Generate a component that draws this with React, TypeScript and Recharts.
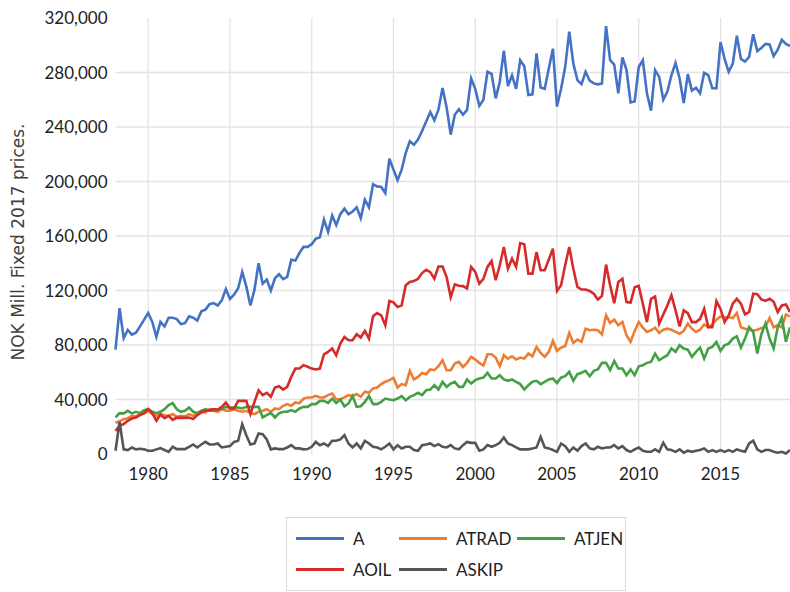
import { LineChart, Line, XAxis, YAxis, CartesianGrid, Legend } from 'recharts';

// quarterly series, 1978Q1 - 2019Q2, NOK mill. (thousands)
const startYear = 1978;
const xTicks = [1980, 1985, 1990, 1995, 2000, 2005, 2010, 2015];
const yTicks = [0, 40, 80, 120, 160, 200, 240, 280, 320];
const gridY = [40, 80, 120, 160, 200, 240, 280];

const A = [
  76.6, 107, 85, 91, 87.6, 89, 93.7, 98.6, 103.5, 97,
  86, 97, 93.7, 100, 100, 99, 95.4, 96, 101, 100,
  98, 104.7, 106, 110, 110.8, 109, 112.8, 121, 113.8, 117,
  121.6, 133.6, 123, 109, 120.6, 140, 125, 128, 120, 129,
  132, 128.4, 130, 142.6, 142, 147.5, 152, 152, 154, 158,
  159, 172, 163, 175, 168, 176, 180, 176, 178, 181,
  173, 186.6, 181, 198, 196.4, 196, 191.5, 216.7, 208.7, 201,
  208.7, 221, 229.5, 227, 230.7, 237, 244, 251, 245, 252.7,
  268.6, 254.4, 234.4, 249, 253, 249, 252.6, 275.6, 268, 255.5,
  260, 280.5, 279, 261, 273, 296, 270, 278, 268, 289,
  284.6, 263.5, 264, 294, 269, 268, 283, 297.5, 255, 268,
  284, 310, 286.5, 274.4, 271.5, 280.5, 274, 272, 271.3, 272,
  314, 289, 285.8, 264.7, 291, 282, 258, 258.7, 284, 289,
  264.7, 252, 281.7, 276.8, 260, 266, 278, 287, 275.6, 257.5,
  278.8, 266.7, 268.8, 264.7, 279.8, 278, 268.4, 268.4, 302.3, 290,
  280.5, 286.5, 307, 290, 288, 291.4, 308, 295.8, 298, 301,
  300.6, 292, 296.7, 304, 301, 299.4,
];

const ATRAD = [
  23, 24, 25.6, 26.3, 28, 27.6, 29.3, 29.8, 31.7, 29.3,
  28, 29.3, 28.5, 28, 29.3, 27.3, 28, 27.6, 29.3, 28,
  30, 31.7, 30.5, 32.9, 31.7, 31, 32.9, 31.7, 31.7, 32.9,
  31.7, 31, 31.7, 30, 29.3, 31, 31.7, 32.9, 31, 33.4,
  32.9, 35.4, 36.6, 35.4, 37.8, 37.3, 40.7, 41.5, 41.5, 42.7,
  41.5, 41.5, 43.2, 44.4, 40.2, 40.2, 41.5, 43.2, 42.5, 44,
  42, 45.7, 44.9, 48.1, 48.8, 51.3, 53, 54.2, 55.9, 48.8,
  51.3, 50.5, 61, 54.7, 56.6, 59.5, 58.6, 62, 61.5, 64.4,
  68.8, 61.5, 61.5, 66.4, 67.6, 63.9, 66.9, 71.3, 69.3, 66.9,
  64.9, 73.2, 73.2, 70.8, 64.4, 72.5, 70, 71.7, 69.3, 70.8,
  70, 73.7, 71.7, 78.6, 74.2, 71.3, 74.9, 83, 75.7, 78.1,
  79.1, 88.8, 81.5, 84, 82.3, 92, 90.8, 91.2, 90.8, 87.8,
  101.8, 96.2, 98.6, 94.5, 96.9, 87.2, 82.3, 90.3, 96.9, 92.7,
  89.6, 90.8, 92.7, 88.8, 91.2, 92, 91.2, 89.6, 88.3, 90.3,
  95.7, 92, 89.6, 91.2, 95, 93, 95, 98.6, 101, 100.3,
  100.3, 99.8, 103.5, 93, 92, 91.2, 90.5, 91.2, 92.4, 93.6,
  99.8, 93, 94.5, 93, 102.3, 101,
];

const ATJEN = [
  26.8, 30, 29.8, 31.7, 29.8, 31, 30, 32.2, 32.9, 31,
  30, 31, 32.9, 35.9, 37.3, 32.9, 31, 31.7, 34.1, 31,
  30, 31.7, 32.9, 31.7, 31.7, 32.9, 33.1, 34.6, 34.1, 34.1,
  34.1, 33.4, 34.6, 34.6, 34.6, 34.6, 26.8, 28.5, 30.2, 26.8,
  29.8, 31, 31, 32.2, 31, 33.4, 34.6, 34.6, 36.6, 36.6,
  39, 39, 37.5, 40.7, 37.5, 40, 35, 37.1, 42.5, 34.6,
  35.1, 38.3, 42.5, 36.6, 36.6, 38.3, 40.7, 40, 39.5, 40.7,
  42.5, 39.5, 41.9, 43.2, 44.9, 43.2, 46.8, 47.3, 50.5, 47.3,
  52.9, 49.3, 51.7, 52.9, 49.3, 49.3, 54.7, 51.7, 54.2, 55.4,
  56.1, 59.6, 55.4, 55.4, 57.8, 54.7, 53.7, 54.7, 53, 51.3,
  47.3, 50.5, 53, 53.7, 51.3, 53, 54.7, 55.4, 52.2, 56.1,
  57.1, 60.3, 53.7, 58.6, 59.6, 61, 57.1, 61, 62, 66.9,
  66.9, 61.5, 68.3, 62.7, 62.7, 57.8, 62, 57.8, 64.4, 65.2,
  66.9, 67.6, 73.7, 68.8, 70.8, 72.5, 77.4, 75, 79.8, 77.4,
  76.6, 71.3, 75, 78.1, 70, 77.4, 78.6, 82.3, 75.7, 79.8,
  81, 84.7, 86.4, 78.1, 84.7, 93.2, 89.6, 73.7, 87.9, 95.7,
  84.7, 77.4, 93.2, 100, 82.3, 93,
];

const AOIL = [
  17, 20.7, 22, 24.4, 26, 26.8, 28.5, 30, 33, 30,
  24.4, 29, 26.3, 28, 25, 26.7, 26.5, 26.5, 26.7, 25.6,
  28.5, 30.5, 31.7, 32.2, 33, 32.4, 34.6, 37.8, 33.4, 33.4,
  39, 39, 39, 29.3, 38.3, 46.8, 43.2, 44.9, 42, 48.8,
  49.8, 47.3, 49.3, 56.6, 62.7, 62.7, 65.2, 64, 62.7, 62,
  62.7, 73.2, 74.9, 77.4, 72.5, 81, 85.9, 83.5, 83.5, 87.9,
  85.5, 90.4, 84.7, 101.1, 103.5, 101.8, 94.5, 112.3, 111.3, 107.9,
  109.1, 123.8, 126.2, 126.9, 128.6, 132.8, 135.2, 133.5, 128.6, 137.6,
  137.6, 129.8, 115.2, 124.5, 123.5, 123.2, 121.5, 137.3, 133.7, 125,
  128.6, 137.3, 141.7, 127.5, 138.5, 151.9, 136, 143.4, 137.3, 154.8,
  153.9, 132.4, 132.4, 148.3, 134.9, 134.9, 142.7, 150.7, 119.7, 123.8,
  138.5, 151.9, 136, 122.6, 120.7, 120.7, 119.7, 117.7, 113.4, 116,
  139, 123.8, 110.7, 126.2, 128.6, 111.5, 111.2, 122.4, 123.4, 110.3,
  96.8, 113.9, 115.6, 95.6, 102.4, 109, 116.4, 105.4, 93.6, 105.4,
  103.4, 96.8, 96.8, 99.2, 106.5, 93.1, 93.1, 112.2, 106.5, 96.8,
  101.7, 110.3, 113.9, 110.3, 102.5, 104.2, 117.7, 117.2, 113.4, 112.4,
  113.9, 111.7, 104.2, 109, 109.8, 104.2,
];

const ASKIP = [
  2.4, 23.6, 3.4, 2.9, 4.8, 3.4, 3.8, 3.4, 2.4, 2.4,
  3.4, 4.3, 2.9, 1.6, 5.3, 3.6, 3.6, 3.6, 5.3, 7,
  4.8, 7, 8.9, 7, 7, 7.7, 4.8, 5.3, 5.8, 8.9,
  9.7, 21.9, 13.8, 7, 7.7, 15.1, 14.6, 10.7, 3.4, 4.1,
  3.6, 3.6, 4.8, 6.5, 4.1, 4.1, 3.4, 3.6, 5.3, 8.9,
  6.5, 7.7, 5.8, 9.7, 9.7, 10.7, 13.8, 7.7, 4.8, 7.7,
  4.1, 9.7, 7.7, 5.3, 4.8, 3.4, 5.3, 7.7, 3.4, 6.5,
  4.1, 5.3, 5.3, 2.9, 2.4, 6.5, 7, 7.7, 5.8, 7.2,
  5.3, 4.8, 6.5, 4.1, 3.4, 6.5, 8.9, 8.2, 8.2, 2.4,
  3.4, 6.5, 5.3, 6.5, 8.2, 12.1, 7.7, 6.5, 4.8, 3.4,
  3.4, 3.4, 4.1, 4.8, 12.6, 4.8, 4.1, 2.9, 1.6, 7.7,
  5.8, 1.6, 4.8, 2.4, 5.8, 7.7, 4.1, 3.4, 5.3, 4.1,
  4.8, 4.8, 6.5, 4.1, 5.8, 2.9, 1.6, 3.4, 4.8, 2.4,
  1.6, 1.6, 3.4, 1.6, 8.2, 3.4, 2.9, 1.6, 3.4, 0.9,
  2.4, 1.6, 2.4, 2.9, 4.1, 1.6, 2.9, 1.6, 2.9, 1.6,
  2.9, 1.6, 3.4, 2.4, 1.6, 7.7, 9.7, 3.4, 1.6, 2.9,
  2.9, 1.6, 0.9, 1.6, 0.4, 2.9,
];

const series = [
  { key: 'A', color: '#4472C4' },
  { key: 'ATRAD', color: '#ED7D31' },
  { key: 'ATJEN', color: '#43A047' },
  { key: 'AOIL', color: '#D62B2B' },
  { key: 'ASKIP', color: '#555555' },
];

const data = A.map((v, i) => ({
  t: startYear + i / 4,
  A: v,
  ATRAD: ATRAD[i],
  ATJEN: ATJEN[i],
  AOIL: AOIL[i],
  ASKIP: ASKIP[i],
}));

const narrow = "Lato, 'Liberation Sans', sans-serif";
const colorOf = (k: string) => series.find(s => s.key === k)!.color;
const legendRows = [['A', 'ATRAD', 'ATJEN'], ['AOIL', 'ASKIP']];
const legendCols = [9, 112, 230];

function LegendBox() {
  return (
    <div style={{ position: 'relative', width: 340, height: 74, border: '1px solid #D9D9D9', boxSizing: 'border-box' }}>
      {legendRows.map((row, r) =>
        row.map((k, c) => (
          <div key={k} style={{ position: 'absolute', left: legendCols[c], top: 8 + r * 31, height: 24, display: 'flex', alignItems: 'center' }}>
            <div style={{ width: 48, height: 3, background: colorOf(k) }} />
            <span style={{ marginLeft: 9, fontFamily: narrow, fontSize: 17, color: '#222' }}>{k}</span>
          </div>
        ))
      )}
    </div>
  );
}

function YTitle({ viewBox }: any) {
  const cx = 18;
  const cy = viewBox.y + viewBox.height / 2 + 6;
  return (
    <text x={cx} y={cy} transform={`rotate(-90 ${cx} ${cy})`} textAnchor="middle" dominantBaseline="central"
      fontFamily="'DejaVu Sans', Verdana, sans-serif" fontSize={17} fill="#404040">
      NOK Mill. Fixed 2017 prices.
    </text>
  );
}

const fmt = (v: number) => (v * 1000).toLocaleString('en-US');

export default function App() {
  return (
    <div style={{ position: 'absolute', left: 0, top: 0, width: 790, height: 592, overflow: 'hidden', background: '#fff' }}>
      <LineChart width={790} height={592} data={data} margin={{ top: 18, right: 0, left: 0, bottom: 98 }}>
        <CartesianGrid stroke="#E3E3E3" strokeWidth={1.3} horizontalValues={gridY} verticalValues={xTicks} />
        <XAxis
          dataKey="t"
          type="number"
          domain={[1978, 2019.25]}
          ticks={xTicks}
          height={40}
          tickLine={false}
          axisLine={false}
          tickSize={0}
          tickMargin={14}
          tick={{ fontFamily: narrow, fontSize: 17, fill: '#222' }}
        />
        <YAxis
          type="number"
          domain={[0, 320]}
          ticks={yTicks}
          width={115.5}
          tickLine={false}
          axisLine={false}
          tickSize={0}
          tickMargin={8}
          tickFormatter={fmt}
          tick={{ fontFamily: narrow, fontSize: 17, fill: '#222' }}
          label={{ content: YTitle }}
        />
        <Legend
          layout="vertical"
          verticalAlign="middle"
          align="center"
          content={() => <LegendBox />}
          wrapperStyle={{ left: 286, top: 517, width: 340, height: 74 }}
        />
        {series.map(s => (
          <Line
            key={s.key}
            dataKey={s.key}
            type="linear"
            stroke={s.color}
            strokeWidth={2.6}
            dot={false}
            isAnimationActive={false}
          />
        ))}
      </LineChart>
    </div>
  );
}
